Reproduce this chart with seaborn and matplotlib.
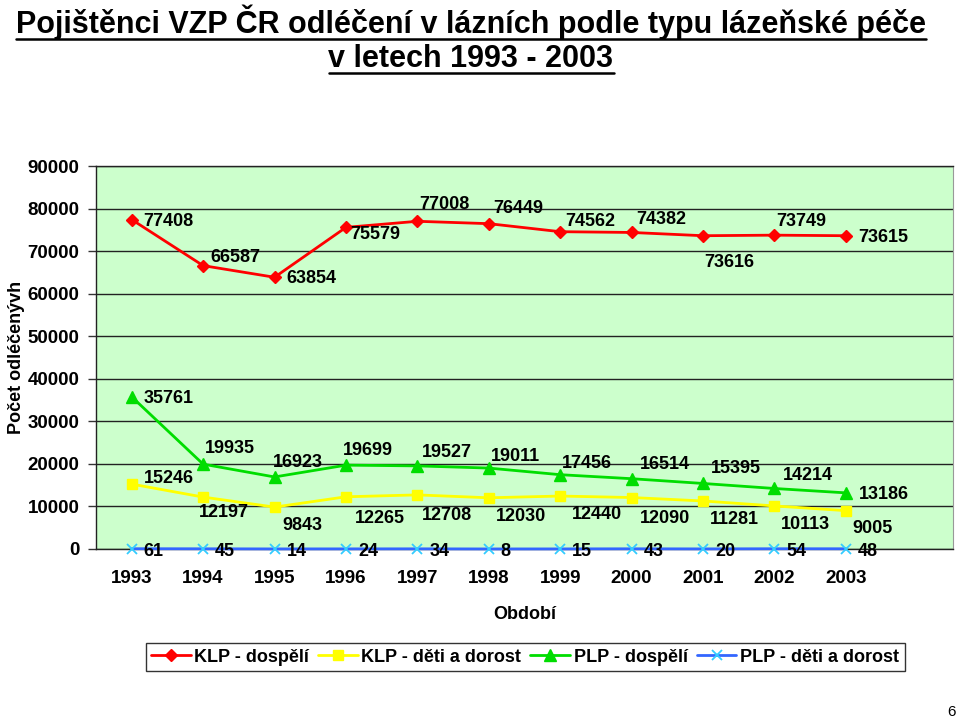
import matplotlib
matplotlib.use('Agg')
import matplotlib.pyplot as plt
from matplotlib.lines import Line2D
import pandas as pd
import seaborn as sns

# Data
years = [1993, 1994, 1995, 1996, 1997, 1998, 1999, 2000, 2001, 2002, 2003]
klp_dospeli = [77408, 66587, 63854, 75579, 77008, 76449, 74562, 74382, 73616, 73749, 73615]
klp_deti = [15246, 12197, 9843, 12265, 12708, 12030, 12440, 12090, 11281, 10113, 9005]
plp_dospeli = [35761, 19935, 16923, 19699, 19527, 19011, 17456, 16514, 15395, 14214, 13186]
plp_deti = [61, 45, 14, 24, 34, 8, 15, 43, 20, 54, 48]
series_names = ['KLP - dospělí', 'KLP - děti a dorost', 'PLP - dospělí', 'PLP - děti a dorost']

# label offsets in pixels (dx, dy up) relative to each point
off_red = [(12, 0), (7, 10), (12, 0), (4, -6), (2, 18), (4, 17), (5, 12), (5, 14), (1, -25), (2, 15), (12, 0)]
off_yellow = [(12, 7), (-4, -14), (8, -17), (9, -20), (5, -19), (7, -17), (12, -17), (8, -19), (7, -17), (6, -17), (7, -16)]
off_green = [(12, 0), (2, 17), (-2, 16), (-3, 16), (5, 15), (2, 13), (2, 13), (8, 16), (8, 16), (8, 14), (13, 0)]
off_blue = [(12, -1)] * 11

sns.set_style('white')
plt.rcParams['font.family'] = ['Liberation Sans', 'DejaVu Sans']
plt.rcParams['font.weight'] = 'bold'
plt.rcParams['text.color'] = 'black'
plt.rcParams['xtick.color'] = 'black'
plt.rcParams['ytick.color'] = 'black'
plt.rcParams['axes.labelcolor'] = 'black'

fig = plt.figure(figsize=(9.6, 7.23), dpi=100)
ax = fig.add_axes([0.1, 0.2407, 0.8927, 0.5297])
ax.set_facecolor('#CCFFCC')

styles = [
    dict(color='#FF0000', marker='D', markersize=6.5, mec='#FF0000', lw=2.0),
    dict(color='#FFFF00', marker='s', markersize=7.5, mec='#FFFF00', lw=2.0),
    dict(color='#00DD00', marker='^', markersize=8.5, mec='#00DD00', lw=2.0),
    dict(color='#3366FF', marker='x', markersize=7.5, mec='#33CCFF', mew=1.3, lw=2.0),
]
all_vals = [klp_dospeli, klp_deti, plp_dospeli, plp_deti]
all_offs = [off_red, off_yellow, off_green, off_blue]

for name, vals, st, offs in zip(series_names, all_vals, styles, all_offs):
    df = pd.DataFrame({'Rok': years, 'Pocet': vals})
    sns.lineplot(data=df, x='Rok', y='Pocet', ax=ax, label=name, color=st['color'],
                 marker=st['marker'], markersize=st['markersize'], markeredgecolor=st['mec'],
                 markerfacecolor=st['mec'], markeredgewidth=st.get('mew', 1.0),
                 linewidth=st['lw'], clip_on=False, zorder=4)
    for x, v, (dx, dy) in zip(years, vals, offs):
        ax.annotate(str(v), (x, v), xytext=(dx, dy - 6), textcoords='offset pixels',
                    ha='left', va='baseline', fontsize=13, fontweight='bold',
                    color='black', zorder=5, annotation_clip=False)

ax.set_xlim(1992.5, 2004.5)
ax.set_ylim(0, 90000)
ax.set_yticks(range(0, 90001, 10000))
ax.set_yticklabels([str(v) for v in range(0, 90001, 10000)])
ax.set_xticks(years)
ax.set_xticklabels([str(y) for y in years])
ax.set_xticks([y + 0.5 for y in [1992] + years], minor=True)
ax.tick_params(axis='x', which='major', length=0, pad=15, labelsize=13.5)
ax.tick_params(axis='x', which='minor', length=5, width=1, direction='out', color='#333333')
ax.tick_params(axis='y', length=6, width=1, direction='out', pad=6, labelsize=13.5, left=True, color='#333333')

ax.grid(True, axis='y', color='#222222', linewidth=1.0)
ax.set_axisbelow(True)
for s in ['left', 'bottom', 'top']:
    ax.spines[s].set_color('#222222')
    ax.spines[s].set_linewidth(1.0)
ax.spines['right'].set_color('#999999')
ax.spines['right'].set_linewidth(0.8)

ax.set_xlabel('Období', fontsize=13, fontweight='bold')
ax.set_ylabel('Počet odléčenývh', fontsize=13, fontweight='bold')
ax.xaxis.set_label_coords(0.5, -0.149)
ax.yaxis.set_label_coords(-0.083, 0.5)

ax.get_legend().remove()
handles = ax.get_lines()[:4]
leg = fig.legend(handles, series_names, loc='center', bbox_to_anchor=(525 / 960, 1 - 657 / 723),
                 ncol=4, frameon=True, fancybox=False, edgecolor='black',
                 prop={'weight': 'bold', 'size': 13}, handlelength=2.2, handletextpad=0.2,
                 columnspacing=0.5, borderpad=0.3)
leg.get_frame().set_linewidth(1.0)

t1 = fig.text(471 / 960, 1 - 33 / 723, 'Pojištěnci VZP ČR odléčení v lázních podle typu lázeňské péče',
              ha='center', va='baseline', fontsize=22, fontweight='bold')
t2 = fig.text(471 / 960, 1 - 67 / 723, 'v letech 1993 - 2003',
              ha='center', va='baseline', fontsize=22, fontweight='bold')
fig.text(952 / 960, 1 - 716 / 723, '6', ha='center', va='baseline', fontsize=11, fontweight='normal')

# underline title lines
fig.canvas.draw()
r = fig.canvas.get_renderer()
for t, uy in [(t1, 39), (t2, 73)]:
    bb = t.get_window_extent(r)
    y = 1 - uy / 723
    fig.add_artist(Line2D([bb.x0 / 960, bb.x1 / 960], [y, y], color='black', linewidth=1.8,
                          transform=fig.transFigure))

fig.savefig('out.png', dpi=100)
